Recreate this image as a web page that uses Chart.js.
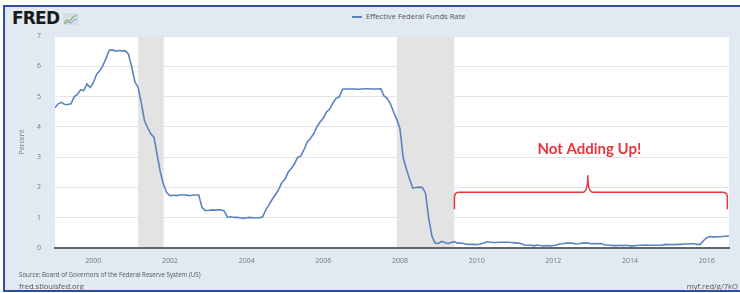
<!DOCTYPE html>
<html lang="en">
<head>
  <meta charset="UTF-8">
  <title>Effective Federal Funds Rate</title>
  <style>
    body {
      margin: 0;
      width: 740px;
      height: 293px;
      overflow: hidden;
      background: #fff;
      font-family: "Open Sans", Arial, sans-serif;
      position: relative;
    }
    .frame {
      position: absolute;
      left: 3px;
      top: 5px;
      width: 740px;
      height: 283px;
      background: #e1e9f2;
      border-left: 2px solid #2f4d9c;
      border-top: 2px solid #2f4d9c;
      border-bottom: 2px solid #2f4d9c;
    }
    #chart {
      position: absolute;
      left: 0;
      top: 0;
    }
    .logo {
      position: absolute;
      left: 12px;
      top: 8px;
      font-family: "DejaVu Sans", sans-serif;
      font-weight: bold;
      font-size: 17px;
      letter-spacing: -0.8px;
      color: #1a1a1a;
    }
    .logo-icon {
      position: absolute;
      left: 63px;
      top: 13px;
    }
    .legend {
      position: absolute;
      left: 352px;
      top: 11px;
      font-size: 7.6px;
      color: #555;
      white-space: nowrap;
    }
    .legend span {
      display: inline-block;
      width: 10px;
      height: 2px;
      background: #5a83c2;
      vertical-align: middle;
      margin-right: 4px;
    }
    .source {
      position: absolute;
      left: 19px;
      top: 270px;
      font-size: 6.2px;
      color: #555;
      white-space: nowrap;
    }
    .site {
      position: absolute;
      left: 19px;
      top: 281px;
      font-size: 7.6px;
      color: #555;
    }
    .short {
      position: absolute;
      right: 2px;
      top: 281px;
      font-size: 7.6px;
      color: #555;
    }
  </style>
  <script src="https://cdn.jsdelivr.net/npm/chart.js"></script>
</head>
<body>
  <div class="frame"></div>
  <div class="logo">FRED</div>
  <svg class="logo-icon" width="15" height="12" viewBox="0 0 15 12">
    <rect x="0" y="0" width="15" height="12" fill="#d6dde6"/>
    <polyline points="1,10 4,7 7,8 10,4 14,2" fill="none" stroke="#8fbf6a" stroke-width="1.3"/>
    <polyline points="1,11 5,9 8,10 11,7 14,6" fill="none" stroke="#7fa3cf" stroke-width="1"/>
  </svg>
  <div class="legend"><span></span>Effective Federal Funds Rate</div>
  <canvas id="chart" width="740" height="293"></canvas>
  <div class="source">Source: Board of Governors of the Federal Reserve System (US)</div>
  <div class="site">fred.stlouisfed.org</div>
  <div class="short">myf.red/g/7kO</div>

  <script>
    // monthly effective fed funds rate, Jan 1999 .. Aug 2016
    const startYear = 1999;
    const rate = [
      4.63, 4.76, 4.81, 4.74, 4.74, 4.76, 4.99, 5.07, 5.22, 5.20, 5.42, 5.30, // 1999
      5.45, 5.73, 5.85, 6.02, 6.27, 6.53, 6.54, 6.50, 6.52, 6.51, 6.51, 6.40, // 2000
      5.98, 5.49, 5.31, 4.80, 4.21, 3.97, 3.77, 3.65, 3.07, 2.49, 2.09, 1.82, // 2001
      1.73, 1.74, 1.73, 1.75, 1.75, 1.75, 1.73, 1.74, 1.75, 1.75, 1.34, 1.24, // 2002
      1.24, 1.26, 1.25, 1.26, 1.26, 1.22, 1.01, 1.03, 1.01, 1.01, 1.00, 0.98, // 2003
      1.00, 1.01, 1.00, 1.00, 1.00, 1.03, 1.26, 1.43, 1.61, 1.76, 1.93, 2.16, // 2004
      2.28, 2.50, 2.63, 2.79, 3.00, 3.04, 3.26, 3.50, 3.62, 3.78, 4.00, 4.16, // 2005
      4.29, 4.49, 4.59, 4.79, 4.94, 4.99, 5.24, 5.25, 5.25, 5.25, 5.25, 5.24, // 2006
      5.25, 5.26, 5.26, 5.25, 5.25, 5.25, 5.26, 5.02, 4.94, 4.76, 4.49, 4.24, // 2007
      3.94, 2.98, 2.61, 2.28, 1.98, 2.00, 2.01, 2.00, 1.81, 0.97, 0.39, 0.16, // 2008
      0.15, 0.22, 0.18, 0.15, 0.18, 0.21, 0.16, 0.16, 0.15, 0.12, 0.12, 0.12, // 2009
      0.11, 0.13, 0.16, 0.20, 0.20, 0.18, 0.18, 0.19, 0.19, 0.19, 0.19, 0.18, // 2010
      0.17, 0.16, 0.14, 0.10, 0.09, 0.09, 0.07, 0.10, 0.08, 0.07, 0.08, 0.07, // 2011
      0.08, 0.10, 0.13, 0.14, 0.16, 0.16, 0.16, 0.13, 0.14, 0.16, 0.16, 0.16, // 2012
      0.14, 0.15, 0.14, 0.15, 0.11, 0.09, 0.09, 0.08, 0.08, 0.09, 0.08, 0.09, // 2013
      0.07, 0.07, 0.08, 0.09, 0.09, 0.10, 0.09, 0.09, 0.09, 0.09, 0.09, 0.12, // 2014
      0.11, 0.11, 0.11, 0.12, 0.12, 0.13, 0.13, 0.14, 0.14, 0.12, 0.12, 0.24, // 2015
      0.34, 0.38, 0.36, 0.37, 0.37, 0.38, 0.39, 0.40                          // 2016
    ];
    const tickYears = [2000, 2002, 2004, 2006, 2008, 2010, 2012, 2014, 2016];
    const yTicks = [0, 1, 2, 3, 4, 5, 6, 7];

    // recessions, as [start, end] in fractional years
    const recessions = [[2001.167, 2001.833], [2007.917, 2009.417]];

    // red annotation, in data units (year, percent)
    const noteText = 'Not Adding Up!';
    const notePos = [2012.94, 3.27];
    const bracketX = [2009.42, 2016.54];
    const bracketY = [1.28, 1.84];
    const bracketTip = [2012.9, 2.40];

    const points = rate.map((v, i) => ({ x: startYear + i / 12, y: v }));

    const backdrop = {
      id: 'backdrop',
      beforeDraw(chart) {
        const { ctx, chartArea: a, scales: { x } } = chart;
        ctx.save();
        ctx.fillStyle = '#fff';
        ctx.fillRect(a.left, a.top, a.right - a.left, a.bottom - a.top);
        ctx.fillStyle = '#e3e3e3';
        recessions.forEach(r => {
          const x0 = x.getPixelForValue(r[0]);
          const x1 = x.getPixelForValue(r[1]);
          ctx.fillRect(x0, a.top, x1 - x0, a.bottom - a.top);
        });
        ctx.restore();
      }
    };

    const note = {
      id: 'note',
      afterDatasetsDraw(chart) {
        const { ctx, scales: { x, y } } = chart;
        const x0 = x.getPixelForValue(bracketX[0]);
        const x1 = x.getPixelForValue(bracketX[1]);
        const yd = y.getPixelForValue(bracketY[0]);
        const yb = y.getPixelForValue(bracketY[1]);
        const xm = x.getPixelForValue(bracketTip[0]);
        const yt = y.getPixelForValue(bracketTip[1]);
        const r = 5;
        ctx.save();
        ctx.strokeStyle = '#e8353d';
        ctx.lineWidth = 1.5;
        ctx.beginPath();
        ctx.moveTo(x0, yd);
        ctx.lineTo(x0, yb + r);
        ctx.quadraticCurveTo(x0, yb, x0 + r, yb);
        ctx.lineTo(xm - 5, yb);
        ctx.quadraticCurveTo(xm, yb, xm, yt);
        ctx.quadraticCurveTo(xm, yb, xm + 5, yb);
        ctx.lineTo(x1 - r, yb);
        ctx.quadraticCurveTo(x1, yb, x1, yb + r);
        ctx.lineTo(x1, yd);
        ctx.stroke();

        ctx.fillStyle = '#e8353d';
        ctx.font = 'bold 15px Lato, sans-serif';
        ctx.textAlign = 'center';
        ctx.textBaseline = 'middle';
        ctx.fillText(noteText, x.getPixelForValue(notePos[0]), y.getPixelForValue(notePos[1]));
        ctx.restore();
      }
    };

    new Chart(document.getElementById('chart'), {
      type: 'line',
      data: {
        datasets: [{
          label: 'Effective Federal Funds Rate',
          data: points,
          borderColor: '#5a83c2',
          borderWidth: 1.6,
          pointRadius: 0,
          tension: 0,
          fill: false
        }]
      },
      options: {
        responsive: false,
        animation: false,
        layout: { padding: { left: 0, right: 11, top: 36, bottom: 25 } },
        plugins: {
          legend: { display: false },
          tooltip: { enabled: false }
        },
        scales: {
          x: {
            type: 'linear',
            min: 1999.0,
            max: 2016.583,
            afterBuildTicks: s => { s.ticks = tickYears.map(v => ({ value: v })); },
            afterFit: s => { s.height = 20; },
            grid: { display: false },
            border: { display: true, color: '#666', width: 2 },
            ticks: {
              padding: 1,
              color: '#777',
              font: { family: 'Open Sans', size: 7 },
              maxRotation: 0,
              callback: v => String(v)
            }
          },
          y: {
            min: 0,
            max: 7,
            afterBuildTicks: s => { s.ticks = yTicks.map(v => ({ value: v })); },
            afterFit: s => { s.width = 55; },
            grid: { color: '#e4e4e4', lineWidth: 1, drawTicks: false },
            border: { display: false },
            title: {
              display: true,
              text: 'Percent',
              color: '#777',
              font: { family: 'Open Sans', size: 7 },
              padding: { top: 18, bottom: 0 }
            },
            ticks: {
              padding: 14,
              color: '#777',
              font: { family: 'Open Sans', size: 7 }
            }
          }
        }
      },
      plugins: [backdrop, note]
    });
  </script>
</body>
</html>
